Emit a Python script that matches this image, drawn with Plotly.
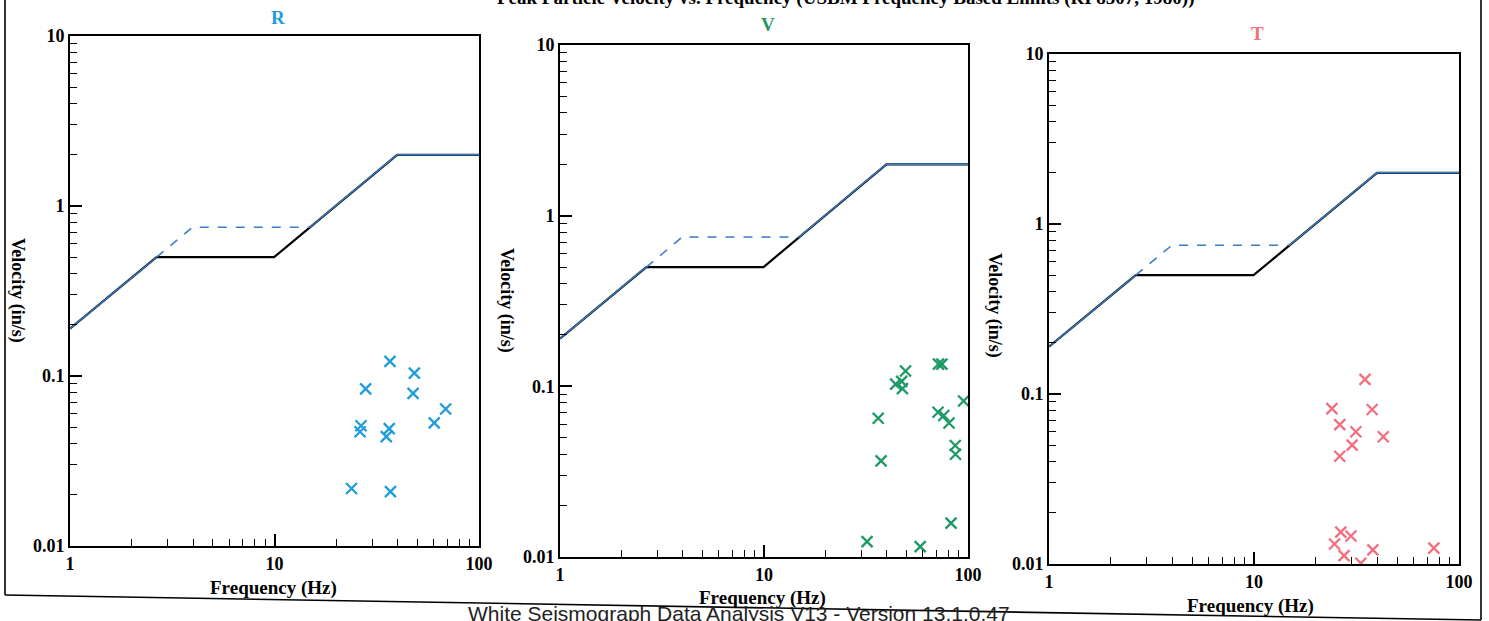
import plotly.graph_objects as go

W, H = 1489, 621

# ---------------- data ----------------
panel_names = ["R", "V", "T"]
panel_colors = ["#1f9ddb", "#1f9a66", "#f2707e"]

# USBM RI 8507 limit lines
plaster_freq = [1, 2.65, 9.95, 39.8, 100]
plaster_vel = [0.19, 0.5, 0.5, 2.0, 2.0]
drywall_freq = [1, 2.65, 3.98, 14.9, 39.8, 100]
drywall_vel = [0.19, 0.5, 0.75, 0.75, 2.0, 2.0]

# measured peaks (frequency Hz, velocity in/s)
r_freq = [36.7, 48.3, 27.9, 47.6, 68.7, 60.4, 26.5, 26.2, 36.4, 35.2, 23.8, 36.9]
r_vel = [0.122, 0.104, 0.084, 0.079, 0.064, 0.053, 0.051, 0.047, 0.049, 0.044, 0.0218, 0.0209]

v_freq = [49.4, 44.2, 47.3, 47.7, 71.7, 74.5, 95.1, 36.3, 71.3, 76.1, 80.7, 86.6, 86.8, 37.5, 82.6, 32.0, 58.3]
v_vel = [0.123, 0.103, 0.107, 0.097, 0.135, 0.135, 0.082, 0.065, 0.0705, 0.0675, 0.061, 0.045, 0.040, 0.0366, 0.0158, 0.0123, 0.0115]

t_freq = [34.8, 24.0, 37.7, 26.2, 31.4, 42.7, 30.1, 26.2, 26.5, 29.7, 24.7, 27.5, 38.0, 33.2, 75.4]
t_vel = [0.122, 0.082, 0.081, 0.066, 0.060, 0.056, 0.050, 0.043, 0.0154, 0.0146, 0.0131, 0.0112, 0.0121, 0.0101, 0.0124]

x_tickvals = [1, 10, 100]
x_ticktext = ["1", "10", "100"]
y_tickvals = [0.01, 0.1, 1, 10]
y_ticktext = ["0.01", "0.1", "1", "10"]

title_text = "Peak Particle Velocity vs. Frequency (USBM Frequency Based Limits (RI 8507, 1980))"
footer_text = "White Seismograph Data Analysis V13 - Version 13.1.0.47"
x_title = "Frequency (Hz)"
y_title = "Velocity (in/s)"

series = [(r_freq, r_vel), (v_freq, v_vel), (t_freq, t_vel)]

# ---------------- layout helpers ----------------
def px(x):
    return x / W


def py(y):
    return 1 - y / H


# panel boxes in pixels: left, right, top, bottom
boxes = [(70, 479, 36, 546), (560, 968, 45, 557), (1049, 1459, 54, 564)]
title_pos = [(278, 17), (768, 25), (1257, 33)]
xlab_pos = [(273, 588), (762, 598), (1250, 606)]
ylab_pos = [(18, 290), (506, 300), (995, 305)]

SERIF = "Liberation Serif"
LIMIT_BLUE = "#3a7cc6"

fig = go.Figure()
layout_axes = {}
annotations = []

for i, name in enumerate(panel_names):
    n = "" if i == 0 else str(i + 1)
    xa, ya = "x" + n, "y" + n
    l, r, t, b = boxes[i]

    # limit lines
    fig.add_trace(go.Scatter(x=plaster_freq, y=plaster_vel, mode="lines",
                             line=dict(color="black", width=2.2),
                             xaxis=xa, yaxis=ya, showlegend=False, hoverinfo="skip"))
    fig.add_trace(go.Scatter(x=drywall_freq[1:4], y=drywall_vel[1:4], mode="lines",
                             line=dict(color=LIMIT_BLUE, width=1.6, dash="dash"),
                             xaxis=xa, yaxis=ya, showlegend=False, hoverinfo="skip"))
    shared_x = drywall_freq[0:2] + [None] + drywall_freq[3:]
    shared_y = drywall_vel[0:2] + [None] + drywall_vel[3:]
    fig.add_trace(go.Scatter(x=shared_x, y=shared_y, mode="lines",
                             line=dict(color=LIMIT_BLUE, width=1.4),
                             xaxis=xa, yaxis=ya, showlegend=False, hoverinfo="skip"))

    # data points
    fx, fv = series[i]
    fig.add_trace(go.Scatter(x=fx, y=fv, mode="markers",
                             marker=dict(symbol="x-thin", size=11,
                                         line=dict(color=panel_colors[i], width=2.3)),
                             xaxis=xa, yaxis=ya, showlegend=False, name=name))

    common = dict(showline=True, linecolor="black", linewidth=2, mirror=True,
                  showgrid=False, zeroline=False, ticks="inside", tickcolor="black",
                  ticklen=12, tickwidth=1.5, automargin=False,
                  tickfont=dict(family=SERIF, size=18, color="black", weight="bold"),
                  minor=dict(ticks="inside", ticklen=7, tickwidth=1.3, tickcolor="black",
                             dtick="D1", showgrid=False))
    layout_axes["xaxis" + n] = dict(type="log", range=[0, 2], domain=[px(l), px(r)],
                                    anchor=ya, tickvals=x_tickvals, ticktext=x_ticktext,
                                    **common)
    layout_axes["yaxis" + n] = dict(type="log", range=[-2, 1], domain=[py(b), py(t)],
                                    anchor=xa, tickvals=y_tickvals, ticktext=y_ticktext,
                                    **common)

    tx, ty = title_pos[i]
    annotations.append(dict(text=name, x=px(tx), y=py(ty), xref="paper", yref="paper",
                            showarrow=False, xanchor="center", yanchor="middle",
                            font=dict(family=SERIF, size=19, color=panel_colors[i], weight="bold")))
    lx, ly = xlab_pos[i]
    annotations.append(dict(text=x_title, x=px(lx), y=py(ly), xref="paper", yref="paper",
                            showarrow=False, xanchor="center", yanchor="middle",
                            font=dict(family=SERIF, size=19, color="black", weight="bold")))
    vx, vy = ylab_pos[i]
    annotations.append(dict(text=y_title, x=px(vx), y=py(vy), xref="paper", yref="paper",
                            showarrow=False, xanchor="center", yanchor="middle", textangle=90,
                            font=dict(family=SERIF, size=18, color="black", weight="bold")))

# cut-off main title at top
annotations.append(dict(text=title_text, x=px(1196), y=1, xref="paper", yref="paper",
                        showarrow=False, xanchor="right", yanchor="middle", yshift=2,
                        font=dict(family=SERIF, size=19, color="black", weight="bold")))
# footer, partly cut at bottom
annotations.append(dict(text=footer_text, x=px(739), y=py(613), xref="paper", yref="paper",
                        showarrow=False, xanchor="center", yanchor="middle",
                        font=dict(family="Liberation Sans", size=21, color="#222222")))

shapes = [
    dict(type="line", xref="paper", yref="paper", x0=px(5), x1=px(5), y0=py(-5), y1=py(595),
         line=dict(color="black", width=1.6)),
    dict(type="line", xref="paper", yref="paper", x0=px(1481), x1=px(1481), y0=py(-5), y1=py(620),
         line=dict(color="black", width=1.6)),
    dict(type="line", xref="paper", yref="paper", x0=px(5), x1=px(1481), y0=py(595), y1=py(620),
         line=dict(color="black", width=1.6)),
]

fig.update_layout(width=W, height=H,
                  margin=dict(l=0, r=0, t=0, b=0, pad=0, autoexpand=False),
                  paper_bgcolor="white", plot_bgcolor="white",
                  annotations=annotations, shapes=shapes, **layout_axes)

fig.write_html("out.html", config={"displayModeBar": False},
               post_script="document.body.style.margin='0px';"
                           "document.body.style.overflow='hidden';"
                           "document.documentElement.style.overflow='hidden';")
